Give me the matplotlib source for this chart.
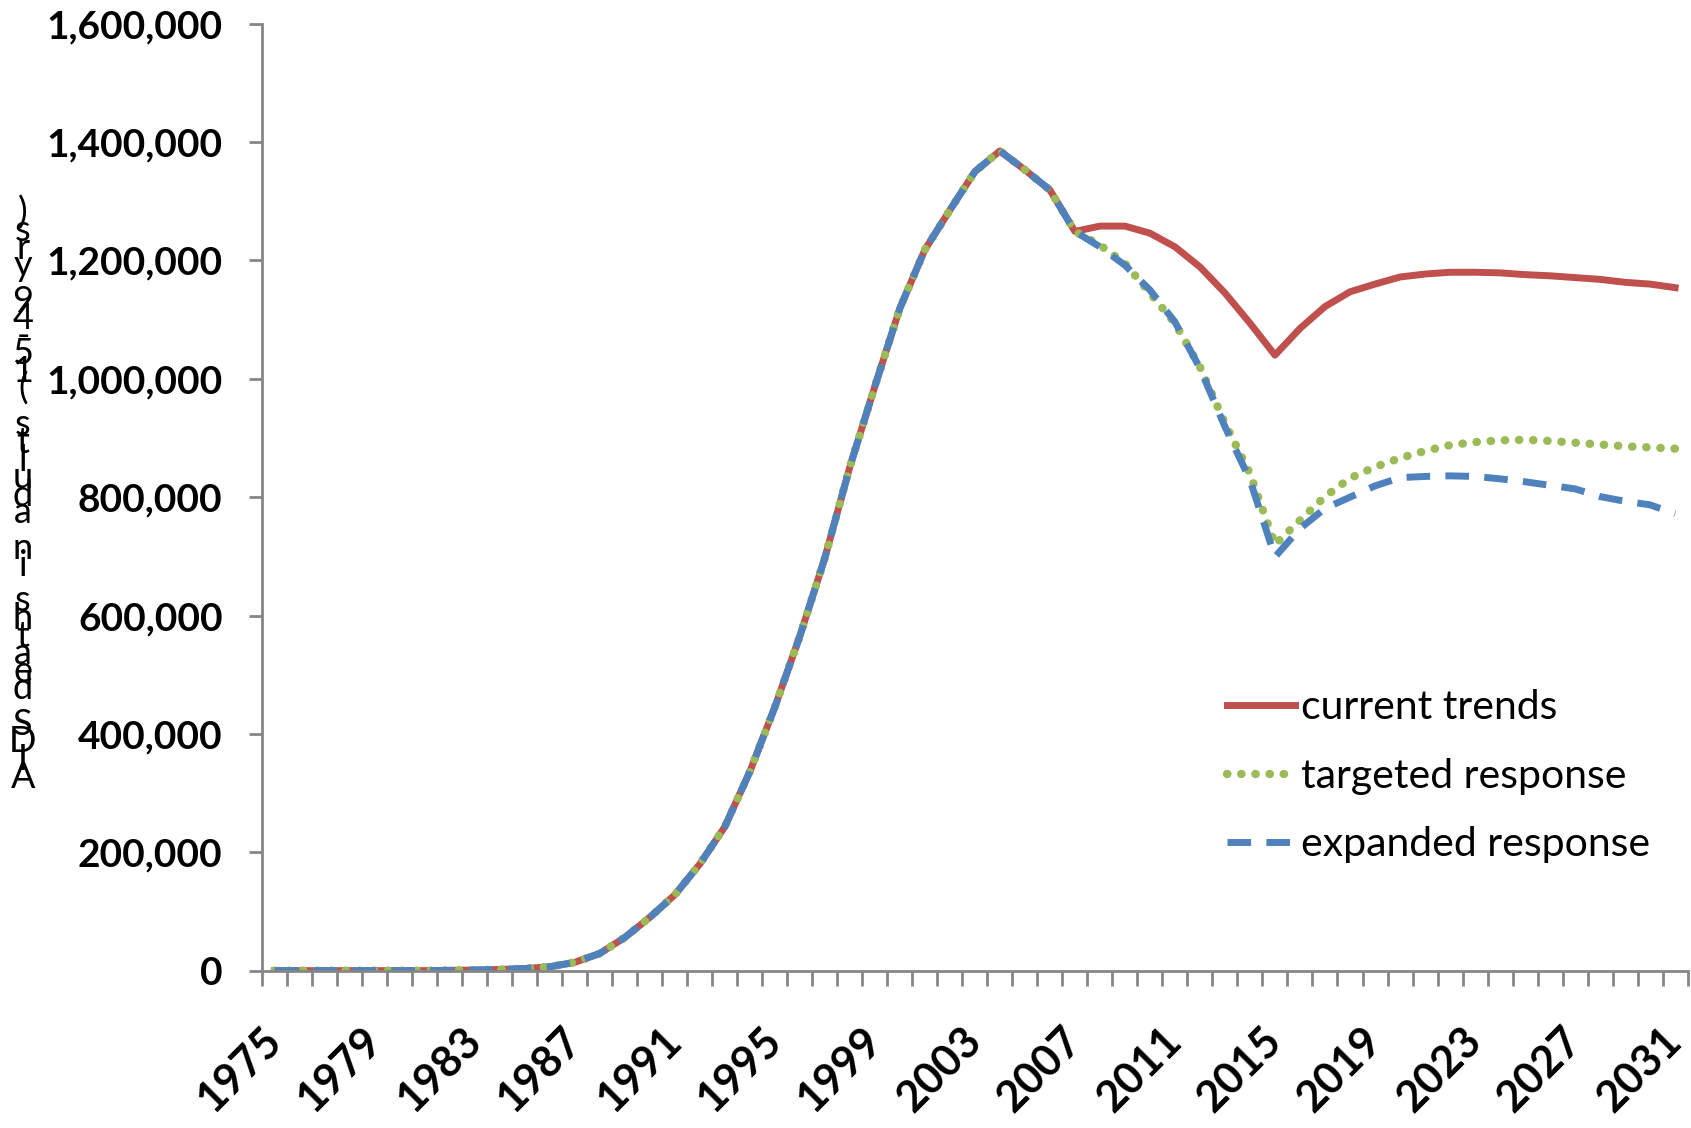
import matplotlib
matplotlib.use("Agg")
import matplotlib.pyplot as plt
from matplotlib.ticker import FuncFormatter
import numpy as np

plt.rcParams["font.family"] = ["Lato", "DejaVu Sans"]

years = list(range(1975, 2032))
label_years = list(range(1975, 2032, 4))

# 1975-2007, identical for all three scenarios
shared = [0, 0, 0, 0, 0, 0, 0, 500, 1000, 2000, 3500, 6500, 14000, 29000,
          56000, 90000, 128000, 180000, 243000, 336000, 445000, 565000,
          697000, 851000, 987000, 1119000, 1218000, 1285000, 1350000,
          1385000, 1353000, 1319000, 1249000]

# 2008-2031
current_tail = [1258000, 1258000, 1246000, 1223000, 1189000, 1145000, 1094000,
                1040000, 1085000, 1122000, 1147000, 1160000, 1172000, 1177000,
                1180000, 1180000, 1179000, 1176000, 1174000, 1171000, 1168000,
                1163000, 1160000, 1154000]
targeted_tail = [1226000, 1195000, 1145000, 1094000, 1020000, 925000, 840000,
                 720000, 761000, 801000, 832000, 851000, 866000, 878000,
                 888000, 893000, 896000, 897000, 895000, 892000, 889000,
                 886000, 884000, 882000]
expanded_tail = [1223000, 1192000, 1150000, 1096000, 1018000, 919000, 829000,
                 699000, 747000, 781000, 800000, 819000, 833000, 835000,
                 836000, 835000, 831000, 826000, 820000, 814000, 801000,
                 793000, 787000, 772000]

current = shared + current_tail
targeted = shared + targeted_tail
expanded = shared + expanded_tail

ylabel = "AIDS deaths in adults (15-49 yrs)"

grey = "#868686"

fig = plt.figure(figsize=(16.91, 11.28), dpi=100)
ax = fig.add_axes([0.155, 0.1395, 0.843, 0.8395])

ax.plot(years, current, color="#C0504D", lw=5, label="current trends")
ax.plot(years, targeted, color="#9BBB59", lw=6, dashes=(0.05, 1.65),
        dash_capstyle="round", label="targeted response")
ax.plot(years, expanded, color="#4F81BD", lw=5, dashes=(3.4, 2.2),
        label="expanded response")

ax.set_xlim(1974.5, 2031.5)
ax.set_ylim(0, 1600000)

# tick marks on category boundaries, labels every 4th year
ax.set_xticks(np.arange(1974.5, 2032, 1))
ax.set_xticklabels([])
ax.set_xticks(label_years, minor=True)
ax.set_xticklabels([str(y) for y in label_years], minor=True, rotation=45,
                   ha="right", va="center", rotation_mode="anchor",
                   fontweight="bold", fontsize=31)
ax.tick_params(axis="x", which="major", length=11, width=2, color=grey)
ax.tick_params(axis="x", which="minor", length=0, pad=46)

ax.set_yticks(range(0, 1600001, 200000))
ax.yaxis.set_major_formatter(FuncFormatter(lambda v, p: f"{int(v):,}"))
ax.tick_params(axis="y", length=9.5, width=2, color=grey, labelsize=28, pad=19)
for t in ax.get_yticklabels():
    t.set_fontweight("bold")

for s in ["top", "right"]:
    ax.spines[s].set_visible(False)
for s in ["left", "bottom"]:
    ax.spines[s].set_color(grey)
    ax.spines[s].set_linewidth(2)

ax.legend(loc="upper left", bbox_to_anchor=(0.677, 0.297), frameon=False,
          fontsize=29.5, handlelength=1.65, handletextpad=0.15,
          labelspacing=0.77, borderpad=0, borderaxespad=0)

# axis title drawn as upright glyphs stacked bottom-to-top
stacked = "\n".join(reversed(ylabel))
fig.text(0.0136, 1 - 494.5 / 1128, stacked, fontsize=26, ha="center",
         va="center", linespacing=0.43, multialignment="center")

fig.savefig("out.png", dpi=100)
